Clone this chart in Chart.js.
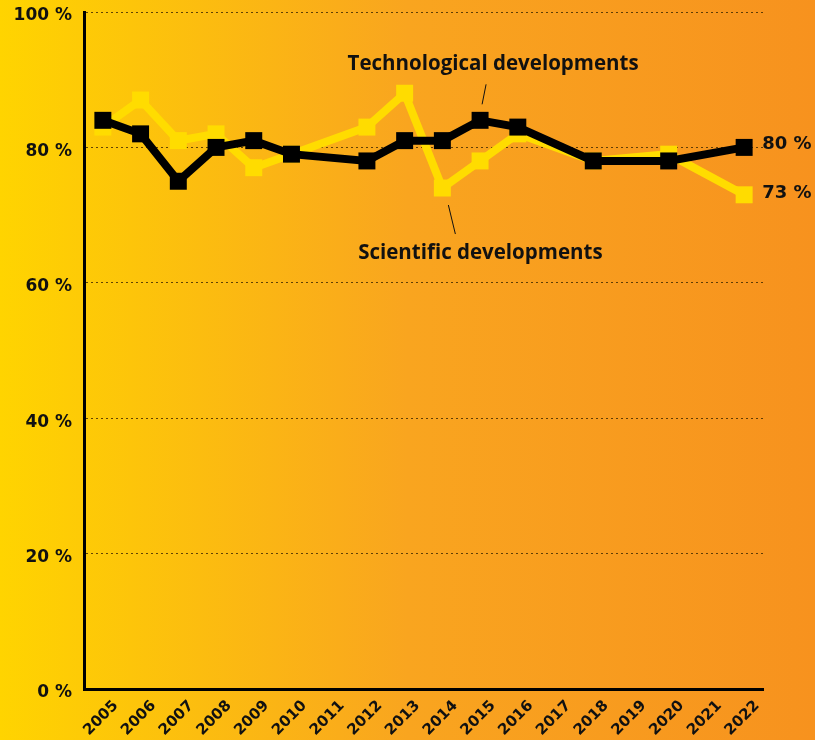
<!DOCTYPE html>
<html>
<head>
<meta charset="utf-8">
<script src="https://cdn.jsdelivr.net/npm/chart.js@4/dist/chart.umd.min.js"></script>
<style>
  html, body { margin: 0; padding: 0; background: #F7931E; }
  canvas { display: block; }
</style>
</head>
<body>
<canvas id="c" width="815" height="740"></canvas>
<script>
// ---- data ----
const years = ["2005","2006","2007","2008","2009","2010","2011","2012","2013","2014","2015","2016","2017","2018","2019","2020","2021","2022"];
const technological = [84, 82, 75, 80, 81, 79, null, 78, 81, 81, 84, 83, null, 78, null, 78, null, 80];
const scientific    = [83, 87, 81, 82, 77, 79, null, 83, 88, 74, 78, 82, null, 78, null, 79, null, 73];
const yTicks = [0, 20, 40, 60, 80, 100];
const seriesNames = ["Technological developments", "Scientific developments"];

const FONT = "'Open Sans', 'DejaVu Sans', sans-serif";
const NUMFONT = "'DejaVu Sans', sans-serif";
const YELLOW = "#FFDC00";
const BLACK = "#000000";

const bgPlugin = {
  id: 'bg',
  beforeDraw(chart) {
    const ctx = chart.ctx;
    const g = ctx.createLinearGradient(0, 0, chart.width, 0);
    g.addColorStop(0, '#FFD400');
    g.addColorStop(0.5, '#F9A51F');
    g.addColorStop(1, '#F7921E');
    ctx.save();
    ctx.fillStyle = g;
    ctx.fillRect(0, 0, chart.width, chart.height);
    ctx.restore();
  }
};

const annPlugin = {
  id: 'ann',
  afterDatasetsDraw(chart) {
    const ctx = chart.ctx;
    const xs = chart.scales.x, ys = chart.scales.y;
    const last = years.length - 1;
    ctx.save();
    ctx.fillStyle = '#111';
    ctx.strokeStyle = '#111';
    ctx.lineWidth = 1;
    // end value labels
    ctx.font = "bold 18px " + NUMFONT;
    ctx.textAlign = 'left';
    ctx.textBaseline = 'middle';
    ctx.fillText(technological[last] + ' %', xs.getPixelForValue(last) + 18, ys.getPixelForValue(technological[last]) - 3);
    ctx.fillText(scientific[last] + ' %', xs.getPixelForValue(last) + 18, ys.getPixelForValue(scientific[last]) - 1);

    // series labels
    ctx.font = "bold 20.5px " + FONT;
    ctx.textAlign = 'center';
    const ti = years.indexOf("2015");
    const tx = xs.getPixelForValue(ti), ty = ys.getPixelForValue(technological[ti]);
    ctx.fillText(seriesNames[0], tx + 13, ty - 56);
    ctx.beginPath();
    ctx.moveTo(tx + 6, ty - 36);
    ctx.lineTo(tx + 2, ty - 16);
    ctx.stroke();

    const si = years.indexOf("2014");
    const sx = xs.getPixelForValue(si), sy = ys.getPixelForValue(scientific[si]);
    ctx.fillText(seriesNames[1], sx + 38, sy + 65);
    ctx.beginPath();
    ctx.moveTo(sx + 6, sy + 17);
    ctx.lineTo(sx + 13, sy + 46);
    ctx.stroke();
    ctx.restore();
  }
};

new Chart(document.getElementById('c'), {
  type: 'line',
  data: {
    labels: years,
    datasets: [
      {
        label: seriesNames[0],
        data: technological,
        borderColor: BLACK,
        backgroundColor: BLACK,
        borderWidth: 8,
        pointStyle: 'rect',
        pointRadius: 12,
        pointHoverRadius: 12,
        pointBorderWidth: 0,
        tension: 0,
        spanGaps: true,
        order: 1
      },
      {
        label: seriesNames[1],
        data: scientific,
        borderColor: YELLOW,
        backgroundColor: YELLOW,
        borderWidth: 8,
        pointStyle: 'rect',
        pointRadius: 12,
        pointHoverRadius: 12,
        pointBorderWidth: 0,
        tension: 0,
        spanGaps: true,
        order: 2
      }
    ]
  },
  options: {
    responsive: false,
    devicePixelRatio: 1,
    animation: false,
    layout: { padding: { top: 10, right: 52, left: 0, bottom: 0 } },
    plugins: {
      legend: { display: false },
      tooltip: { enabled: false },
      title: { display: false }
    },
    scales: {
      x: {
        type: 'category',
        offset: true,
        grid: { display: false, drawTicks: false },
        border: { display: true, color: '#000', width: 3 },
        ticks: {
          autoSkip: false,
          maxRotation: 45,
          minRotation: 45,
          labelOffset: 13,
          padding: 8,
          color: '#111',
          font: { family: NUMFONT, size: 15, weight: 'bold' }
        },
        afterFit(scale) { scale.height = 51; scale.paddingLeft = 0; scale.paddingRight = 0; }
      },
      y: {
        min: 0,
        max: 100,
        afterBuildTicks(scale) { scale.ticks = yTicks.map(v => ({ value: v })); },
        grid: { color: 'rgba(70,45,0,0.85)', lineWidth: 1, drawTicks: false },
        border: { display: true, color: '#000', width: 3, dash: [2, 3] },
        ticks: {
          padding: 12,
          labelOffset: 4,
          color: '#111',
          font: { family: NUMFONT, size: 17, weight: 'bold' },
          callback: v => v + ' %'
        },
        afterFit(scale) { scale.width = 84; scale.paddingTop = 0; scale.paddingBottom = 0; }
      }
    }
  },
  plugins: [bgPlugin, annPlugin]
});
</script>
</body>
</html>
